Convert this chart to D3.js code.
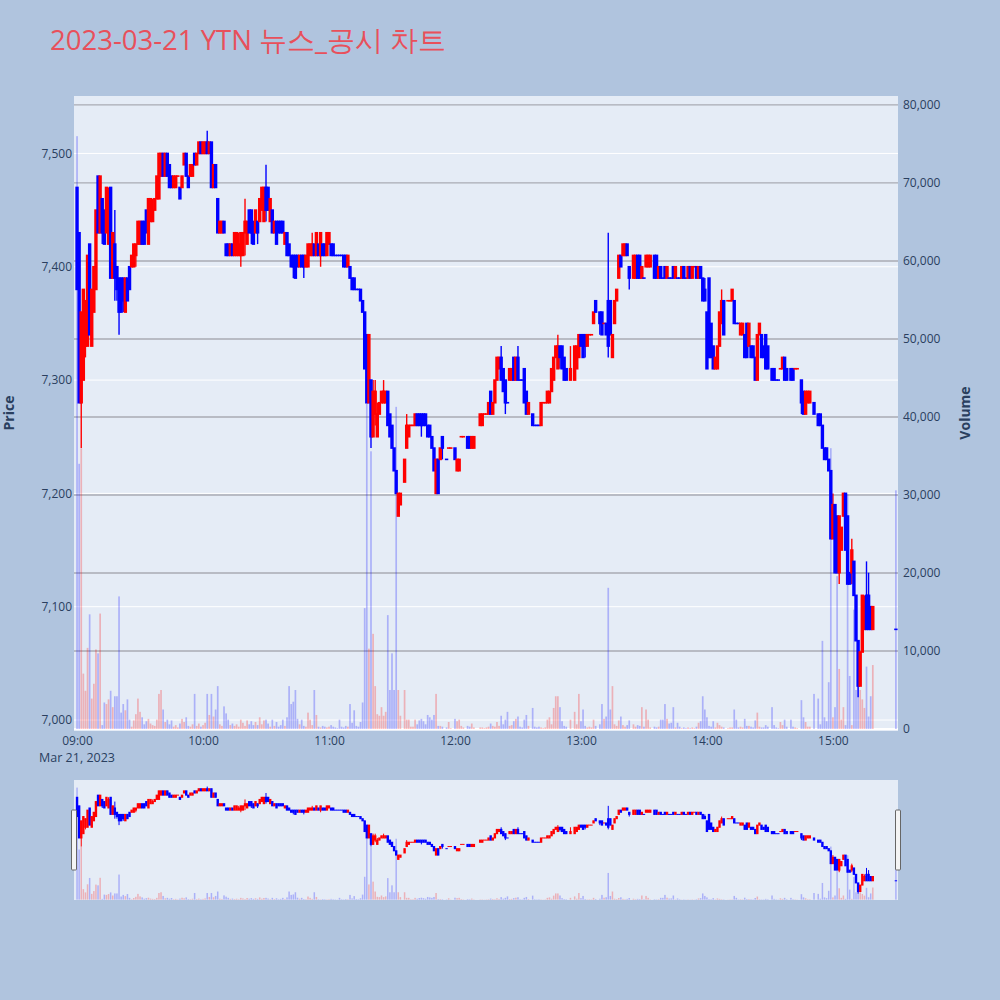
<!DOCTYPE html>
<html><head><meta charset="utf-8">
<script src="https://cdn.jsdelivr.net/npm/d3@7"></script>
<style>body{margin:0;background:#B0C4DE;}svg{display:block}</style>
</head><body><svg id="c" width="1000" height="1000"></svg>
<script>
const chartTitle = "2023-03-21 YTN 뉴스_공시 차트";
const priceTicks = [7000, 7100, 7200, 7300, 7400, 7500];
const volumeTicks = [0, 10000, 20000, 30000, 40000, 50000, 60000, 70000, 80000];
// index = minutes after 09:00 ; null = no trade in that minute
const opens = [
7470,7430,7280,7300,7330,7330,7420,7330,7360,7380, 7480,7430,7460,7450,7430,7420,7470,7390,7420,7400,
7390,7390,7390,7360,7390,7400,7400,7400,7410,7420, 7420,7440,7440,7450,7420,7440,7440,7450,7460,7460,
7480,7500,7480,7500,7490,7480,7470,7470,7480,7470, 7470,7490,7500,7480,7480,7480,7500,7490,7500,7510,
7500,7500,7510,7500,7510,7470,7490,7460,7430,7430, 7440,7420,7420,7410,7420,7410,7410,7410,7410,7410,
7430,7420,7450,7450,7440,7430,7440,7440,7450,7440, 7470,7470,7440,7450,7430,7440,7440,7440,7440,7420,
7430,7420,7410,7410,7410,7410,7400,7410,7410,7400, 7400,7410,7410,7420,7410,7420,7410,7420,7420,7410,
7420,7420,7420,7410,7410,7410,7410,7410,7410,7400, 7400,7390,7390,7380,7380,7380,7370,7360,7340,7280,
7300,7250,7270,7250,7270,7280,7280,7280,7290,7270, 7260,7240,7220,7180,7190,null,7210,7240,7250,7260,
7260,7260,7270,7270,7270,7270,7270,7260,7260,7250, 7240,7200,7230,7230,7250,null,7230,7240,7240,null,
7240,7220,7220,7250,7250,null,7250,7250,7240,7240, null,null,7260,7260,7270,7270,7270,7290,7270,7280,
7300,7310,7320,7310,7300,7280,7300,7300,7320,7300, 7320,7300,7300,7310,7290,7270,null,7270,7260,7260,
7260,7260,7280,7280,7280,7280,7290,7300,7320,7310, 7330,7330,7320,7310,null,7300,null,7300,7310,7320,
7340,7340,7340,7330,7340,7340,7350,7370,null,7360, 7360,7350,7350,7370,7370,7320,7350,7370,7390,7410,
7410,7410,7420,7400,null,7390,7390,7410,7410,7390, 7390,7400,7400,7400,null,7410,7410,7390,7400,7390,
7400,7390,7390,7390,7400,7390,7390,7390,7390,7400, 7390,7390,7400,7390,7400,7400,7390,7400,7390,7380,
7360,7390,7350,7330,7310,7310,7330,7350,7370,null, 7370,7370,7370,7370,7350,7350,7340,7340,7340,7350,
7330,7330,7330,7320,7300,7340,7340,7330,7340,7330, null,7310,7310,7300,7300,7310,7310,7320,7310,null,
7310,7310,7310,7310,null,7300,7290,7270,7280,7280, null,7280,null,7270,7270,7260,7240,7240,7230,7220,
7160,7190,7180,7130,7150,7180,7200,7180,7130,7130, 7140,7110,7070,7030,7060,7080,7110,7110,7100,7080,
null,null,null,null,null,null,null,null,null,null, 7080];
const highs = [
7470,7430,7360,7380,7370,7410,7420,7380,7400,7450, 7480,7480,7460,7450,7470,7470,7470,7430,7450,7400,
7390,7390,7390,7390,7390,7400,7410,7420,7420,7440, 7440,7440,7440,7450,7460,7460,7460,7460,7480,7500,
7500,7500,7500,7500,7490,7480,7480,7480,7480,7470, 7480,7500,7500,7480,7490,7490,7500,7500,7510,7510,
7510,7510,7520,7510,7510,7490,7490,7460,7440,7440, 7440,7420,7420,7420,7420,7430,7430,7430,7430,7430,
7460,7440,7450,7450,7440,7450,7440,7460,7470,7470, 7490,7470,7460,7450,7440,7440,7440,7440,7440,7430,
7430,7420,7410,7410,7410,7410,7410,7410,7410,7410, 7420,7420,7430,7420,7430,7420,7430,7420,7420,7430,
7430,7420,7420,7410,7410,7410,7410,7410,7410,7410, 7400,7390,7390,7380,7380,7380,7370,7360,7340,7340,
7300,7300,7300,7280,7280,7290,7300,7290,7290,7270, 7260,7240,7220,7200,7200,null,7230,7270,7260,7260,
7260,7270,7270,7270,7270,7270,7270,7260,7260,7250, 7240,7230,7230,7240,7250,null,7230,7240,7240,null,
7240,7230,7230,7250,7250,null,7250,7250,7250,7250, null,null,7270,7270,7270,7270,7280,7290,7280,7300,
7320,7320,7330,7310,7300,7280,7310,7310,7320,7320, 7330,7300,7300,7310,7290,7280,null,7270,7260,7260,
7260,7280,7280,7280,7290,7290,7310,7320,7330,7340, 7330,7330,7320,7310,null,7330,null,7330,7330,7340,
7340,7340,7340,7340,7340,7340,7360,7370,null,7360, 7360,7350,7350,7430,7370,7340,7370,7380,7410,7410,
7420,7420,7420,7400,null,7410,7410,7410,7410,7400, 7390,7410,7410,7410,null,7410,7410,7400,7400,7390,
7400,7400,7390,7390,7400,7400,7390,7390,7400,7400, 7390,7400,7400,7400,7400,7400,7400,7400,7390,7390,
7360,7390,7350,7330,7320,7330,7360,7380,7370,null, 7370,7370,7380,7370,7350,7350,7350,7350,7340,7350,
7350,7330,7330,7320,7340,7350,7340,7330,7340,7330, null,7310,7310,7300,7300,7310,7320,7320,7310,null,
7310,7310,7310,7310,null,7300,7290,7290,7290,7290, null,7280,null,7270,7270,7260,7240,7240,7230,7220,
7200,7190,7180,7180,7170,7200,7200,7180,7130,7160, 7140,7110,7070,7060,7110,7110,7140,7130,7100,7100,
null,null,null,null,null,null,null,null,null,null, 7080];
const lows = [
7380,7280,7240,7300,7320,7330,7340,7330,7360,7380, 7430,7430,7420,7420,7430,7420,7390,7390,7370,7370,
7340,7360,7360,7360,7370,7380,7400,7400,7400,7420, 7420,7420,7420,7430,7420,7440,7440,7450,7460,7460,
7480,7480,7480,7480,7470,7470,7470,7470,7480,7460, 7470,7490,7480,7470,7480,7480,7490,7490,7500,7500,
7500,7500,7500,7500,7470,7470,7470,7430,7430,7430, 7430,7410,7410,7410,7410,7410,7410,7410,7400,7410,
7410,7420,7430,7420,7420,7430,7420,7440,7450,7440, 7440,7450,7440,7430,7430,7420,7430,7430,7430,7420,
7410,7410,7400,7390,7390,7400,7400,7400,7390,7400, 7400,7410,7410,7410,7410,7410,7400,7410,7410,7410,
7420,7410,7410,7410,7410,7410,7410,7400,7400,7400, 7390,7380,7380,7380,7380,7370,7360,7310,7280,7280,
7240,7250,7260,7250,7270,7280,7280,7280,7260,7250, 7240,7220,7200,7180,7190,null,7210,7240,7250,7260,
7260,7260,7260,7260,7250,7260,7260,7250,7250,7240, 7220,7200,7200,7230,7230,null,7230,7240,7240,null,
7230,7220,7220,7250,7250,null,7240,7240,7240,7240, null,null,7260,7260,7270,7270,7270,7270,7270,7280,
7300,7310,7300,7290,7270,7280,7300,7300,7300,7300, 7300,7300,7300,7280,7270,7270,null,7260,7260,7260,
7260,7260,7280,7280,7280,7280,7290,7300,7320,7310, 7310,7310,7300,7300,null,7300,null,7300,7310,7320,
7330,7320,7320,7330,7340,7340,7350,7360,null,7340, 7340,7350,7340,7320,7340,7320,7350,7370,7390,7400,
7410,7410,7410,7380,null,7390,7390,7390,7390,7390, 7390,7400,7400,7400,null,7390,7390,7390,7390,7390,
7390,7390,7390,7390,7390,7390,7390,7390,7390,7390, 7390,7390,7390,7390,7400,7390,7390,7390,7370,7370,
7310,7320,7320,7310,7310,7310,7330,7350,7340,null, 7370,7370,7370,7350,7350,7350,7340,7340,7320,7320,
7330,7320,7320,7300,7300,7340,7320,7320,7310,7310, null,7300,7300,7300,7300,7310,7310,7300,7300,null,
7300,7300,7310,7310,null,7270,7270,7270,7280,7280, null,7270,null,7260,7260,7240,7230,7230,7220,7160,
7160,7130,7130,7120,7150,7180,7150,7120,7120,7120, 7110,7070,7020,7030,7060,7080,7080,7080,7080,7080,
null,null,null,null,null,null,null,null,null,null, 7080];
const closes = [
7380,7280,7360,7380,7370,7410,7340,7380,7400,7450, 7430,7480,7430,7420,7470,7460,7390,7430,7390,7380,
7360,7360,7370,7390,7370,7380,7410,7420,7420,7440, 7440,7420,7420,7430,7460,7460,7450,7460,7480,7500,
7500,7480,7500,7480,7470,7470,7480,7480,7480,7460, 7480,7500,7480,7470,7490,7490,7490,7500,7510,7500,
7510,7510,7500,7510,7470,7490,7470,7430,7440,7440, 7430,7410,7410,7420,7410,7430,7430,7420,7430,7430,
7440,7440,7430,7430,7420,7450,7430,7460,7470,7470, 7450,7450,7460,7430,7440,7420,7430,7430,7430,7430,
7410,7410,7400,7400,7390,7400,7410,7400,7400,7410, 7420,7420,7420,7410,7430,7410,7430,7410,7410,7430,
7430,7410,7410,7410,7410,7410,7410,7400,7400,7410, 7390,7380,7380,7380,7380,7370,7360,7310,7280,7340,
7250,7290,7290,7270,7280,7290,7290,7290,7260,7250, 7240,7220,7200,7200,7200,null,7230,7260,7260,7260,
7260,7270,7260,7260,7260,7260,7260,7250,7250,7240, 7220,7230,7200,7240,7240,null,7230,7240,7240,null,
7230,7230,7230,7250,7250,null,7240,7240,7250,7250, null,null,7270,7270,7270,7270,7280,7270,7280,7300,
7320,7320,7300,7290,7280,7280,7310,7310,7300,7320, 7300,7300,7300,7280,7270,7280,null,7260,7260,7260,
7260,7280,7280,7280,7290,7290,7310,7320,7330,7330, 7320,7310,7300,7300,null,7310,null,7330,7330,7340,
7330,7320,7330,7340,7340,7340,7360,7360,null,7350, 7340,7350,7340,7330,7340,7340,7370,7380,7410,7400,
7420,7420,7410,7390,null,7410,7410,7390,7390,7400, 7390,7410,7410,7410,null,7390,7390,7400,7390,7390,
7390,7400,7390,7390,7390,7400,7390,7390,7400,7390, 7390,7400,7390,7400,7400,7390,7400,7390,7370,7370,
7310,7320,7320,7310,7320,7330,7360,7370,7340,null, 7370,7370,7380,7350,7350,7350,7350,7350,7320,7320,
7350,7320,7320,7300,7340,7350,7320,7320,7310,7310, null,7300,7300,7300,7300,7310,7320,7300,7300,null,
7300,7300,7310,7310,null,7280,7270,7290,7290,7290, null,7270,null,7260,7260,7240,7230,7230,7220,7160,
7190,7130,7130,7180,7170,7200,7150,7120,7120,7150, 7110,7070,7030,7060,7110,7100,7080,7080,7080,7100,
null,null,null,null,null,null,null,null,null,null, 7080];
const volumes = [
76000,34000,36000,7100,4900,10400,14700,3900,5800,10200, 9700,14800,500,3400,3200,3800,4900,2800,4200,4200,
17000,2100,3200,2400,3800,1200,300,1100,1900,3900, 2200,1500,600,1000,1300,700,500,400,1200,4500,
5000,2500,900,1200,600,1100,300,500,200,700, 1300,900,1500,400,300,600,4500,400,700,300,
500,800,4500,1800,4500,1600,2500,5500,600,400, 2900,2000,1200,500,700,400,600,300,1200,800,
400,1100,600,1000,500,900,500,1500,600,1100, 1200,700,300,1200,400,900,300,500,1200,400,
1500,5500,3200,3500,5000,1300,600,1200,400,300, 2100,1200,500,5000,1800,300,200,400,300,200,
300,500,300,200,100,1200,300,200,400,300, 3200,800,2400,400,300,900,3400,15500,41700,10300,
35600,12200,5500,1900,1700,2800,1700,2200,14600,5000, 9700,5000,41300,5000,1700,null,5000,1200,1200,300,
300,1200,600,1100,1300,1000,600,1800,1500,1200, 1800,4500,400,400,300,null,200,900,100,null,
1300,1000,1200,400,200,null,400,300,700,200, null,null,200,200,100,200,300,700,400,300,
900,400,1700,600,1200,2200,400,500,1000,1300, 1600,300,200,1200,1800,400,null,2700,300,200,
300,200,100,200,1200,1500,600,2700,4200,4200, 2800,1000,400,300,null,1200,null,2200,600,4500,
1000,2500,400,200,300,200,1200,400,null,600, 3200,1300,1600,18100,2500,5500,600,400,1100,1600,
500,300,500,1100,null,600,300,500,400,2800, 300,2500,1200,200,null,300,200,300,1200,1200,
3200,1300,700,800,2800,200,800,300,100,200, 100,200,100,200,100,300,800,1000,4200,2500,
1500,400,300,1000,200,800,500,300,200,null, 100,200,200,2500,1200,200,300,200,1300,400,
400,300,200,1100,2100,300,200,200,500,300, null,2800,500,200,100,900,500,1200,300,null,
1200,300,200,100,null,3700,1500,900,300,300, null,4500,null,3900,600,11300,1500,1000,6000,36000,
1500,2800,19600,7700,1200,2800,500,30100,6800,500, 15300,5000,10900,5000,3800,2700,8000,1600,4200,8200,
null,null,null,null,null,null,null,null,null,null, 30600];

const UP = "#ff0000", DOWN = "#0000ff";
const FONT = "'Open Sans', 'Noto Sans', sans-serif";
const TXT = "#2a3f5f";
const svg = d3.select("#c");
const t0 = new Date(2023, 2, 21, 9, 0);
const tm = m => new Date(t0.getTime() + m * 60000);

const P = {l: 74, r: 898, t: 96, b: 731};
const S = {t: 780, b: 900};

const x = d3.scaleTime().domain([tm(-1.45), tm(391)]).range([P.l, P.r]);
const yP = d3.scaleLinear().domain([6990.3, 7550.7]).range([P.b, P.t]);
const yV = d3.scaleLinear().domain([-256, 81150]).range([P.b, P.t]);
const yPs = yP.copy().range([S.b, S.t]);
const yVs = yV.copy().range([S.b, S.t]);

// build candles
const bars = [];
let prevC = null, prevDir = 1;
for (let i = 0; i < opens.length; i++) {
  if (opens[i] == null) continue;
  const o = opens[i], h = highs[i], l = lows[i], c = closes[i];
  let dir;
  if (c > o) dir = 1; else if (c < o) dir = -1;
  else if (prevC != null && c > prevC) dir = 1;
  else if (prevC != null && c < prevC) dir = -1;
  else dir = prevDir;
  bars.push({t: tm(i), o, h, l, c, v: volumes[i], dir});
  prevC = c; prevDir = dir;
}

// backgrounds
svg.append("rect").attr("width", 1000).attr("height", 1000).attr("fill", "#B0C4DE");
svg.append("rect").attr("x", P.l).attr("y", P.t).attr("width", P.r - P.l).attr("height", P.b - P.t).attr("fill", "#E5ECF6");

// grids
const g = svg.append("g");
g.selectAll("line.pg").data(priceTicks).join("line")
  .attr("x1", P.l).attr("x2", P.r).attr("y1", d => yP(d)).attr("y2", d => yP(d))
  .attr("stroke", "#ffffff").attr("stroke-width", 1);
g.selectAll("line.vg").data(volumeTicks.filter(d => d > 0)).join("line")
  .attr("x1", P.l).attr("x2", P.r).attr("y1", d => yV(d)).attr("y2", d => yV(d))
  .attr("stroke", "#a9abb3").attr("stroke-width", 1.3);
g.append("line").attr("x1", P.l).attr("x2", P.r).attr("y1", yV(0)).attr("y2", yV(0))
  .attr("stroke", "#ffffff").attr("stroke-width", 2);

function drawSeries(layer, yPr, yVr, bodyW, wickW, volW, minH) {
  layer.append("g").selectAll("rect").data(bars).join("rect")
    .attr("x", d => x(d.t) - volW / 2).attr("width", volW)
    .attr("y", d => yVr(d.v)).attr("height", d => Math.max(0, yVr(0) - yVr(d.v)))
    .attr("fill", d => d.dir > 0 ? UP : DOWN).attr("fill-opacity", 0.25);
  const cg = layer.append("g");
  cg.selectAll("line").data(bars).join("line")
    .attr("x1", d => x(d.t)).attr("x2", d => x(d.t))
    .attr("y1", d => yPr(d.h)).attr("y2", d => yPr(d.l))
    .attr("stroke", d => d.dir > 0 ? UP : DOWN).attr("stroke-width", wickW);
  cg.selectAll("rect").data(bars).join("rect")
    .attr("x", d => x(d.t) - bodyW / 2).attr("width", bodyW)
    .attr("y", d => Math.min(yPr(d.o), yPr(d.c)) - minH / 2)
    .attr("height", d => Math.abs(yPr(d.o) - yPr(d.c)) + minH)
    .attr("fill", d => d.dir > 0 ? UP : DOWN);
}
drawSeries(svg.append("g"), yP, yV, 3.4, 1.4, 1.7, 1.6);

// axes
const fmt = d3.format(",");
const axL = svg.append("g").attr("transform", `translate(${P.l},0)`)
  .call(d3.axisLeft(yP).tickValues(priceTicks).tickFormat(fmt).tickSize(0).tickPadding(2));
const axR = svg.append("g").attr("transform", `translate(${P.r},0)`)
  .call(d3.axisRight(yV).tickValues(volumeTicks).tickFormat(fmt).tickSize(0).tickPadding(5));
const axB = svg.append("g").attr("transform", `translate(0,${P.b})`)
  .call(d3.axisBottom(x).ticks(d3.timeHour.every(1)).tickFormat(d3.timeFormat("%H:%M")).tickSize(0).tickPadding(5));
[axL, axR, axB].forEach(a => {
  a.select(".domain").remove();
  a.selectAll("text").attr("font-family", FONT).attr("font-size", 12).attr("fill", TXT);
});
svg.append("text").attr("x", x(t0)).attr("y", 762).attr("text-anchor", "middle")
  .attr("font-family", FONT).attr("font-size", 12.5).attr("fill", TXT)
  .text(d3.timeFormat("%b %d, %Y")(t0));

svg.append("text").attr("transform", "translate(14,413) rotate(-90)").attr("text-anchor", "middle")
  .attr("font-family", FONT).attr("font-size", 14).attr("font-weight", "bold").attr("fill", TXT).text("Price");
svg.append("text").attr("transform", "translate(970,413) rotate(-90)").attr("text-anchor", "middle")
  .attr("font-family", FONT).attr("font-size", 14).attr("font-weight", "bold").attr("fill", TXT).text("Volume");

// title
svg.append("text").attr("x", 50).attr("y", 50)
  .attr("font-family", FONT).attr("font-size", 27.5).attr("fill", "#e8505b").text(chartTitle);

// range slider
svg.append("rect").attr("x", P.l).attr("y", S.t).attr("width", P.r - P.l).attr("height", S.b - S.t).attr("fill", "#E5ECF6");
drawSeries(svg.append("g"), yPs, yVs, 2.4, 1, 1.5, 1);
[P.l, P.r].forEach(px => {
  svg.append("rect").attr("x", px - 2.5).attr("y", S.t + 30).attr("width", 5).attr("height", 60)
    .attr("rx", 1).attr("fill", "#f4f4f4").attr("stroke", "#666").attr("stroke-width", 1);
});
</script></body></html>
